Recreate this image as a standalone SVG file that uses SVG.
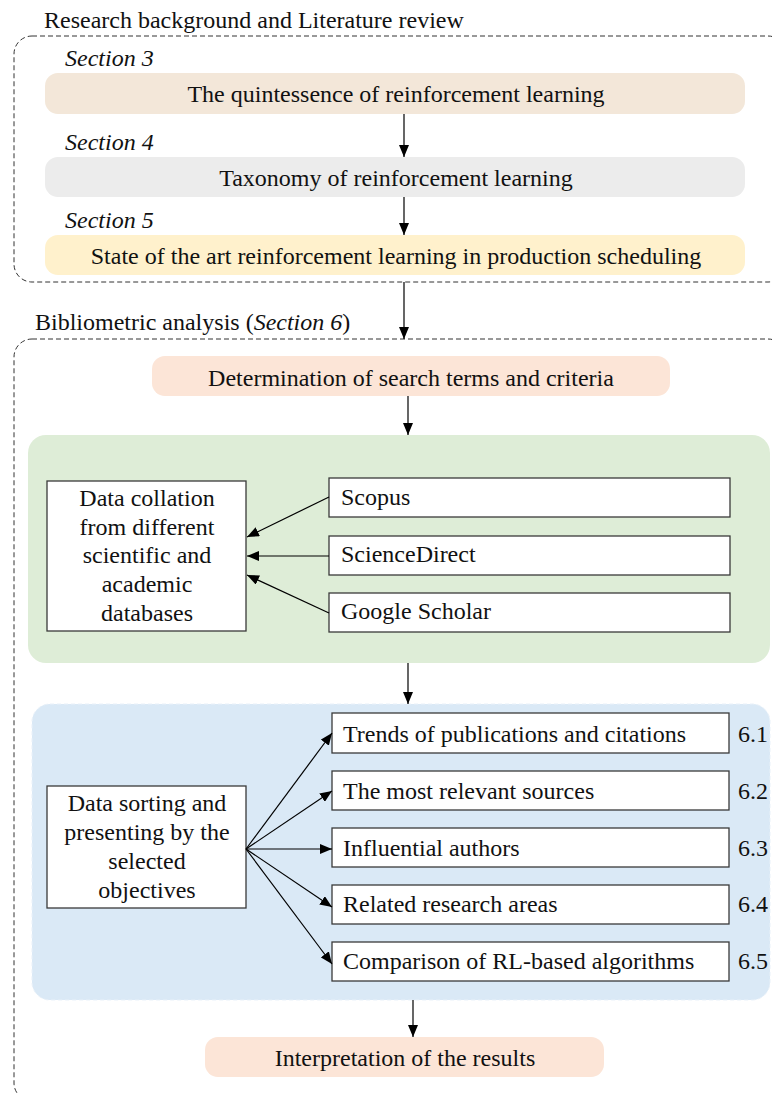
<svg xmlns="http://www.w3.org/2000/svg" width="772" height="1093" viewBox="0 0 772 1093">
  <defs>
    <marker id="arrow" markerUnits="userSpaceOnUse" markerWidth="12" markerHeight="10" refX="12" refY="5" orient="auto">
      <path d="M0,0 L12,5 L0,10 Z" fill="#000"/>
    </marker>
    <style>
      text { font-family: "Liberation Serif", "Times New Roman", serif; font-size: 24px; fill: #111; }
      .it { font-style: italic; }
      .mid { text-anchor: middle; }
      .frame { fill: none; stroke: #333; stroke-width: 1; stroke-dasharray: 5 3; }
      .box { fill: #fff; stroke: #3a3a3a; stroke-width: 1.3; }
      .conn { fill: none; stroke: #000; stroke-width: 1.2; marker-end: url(#arrow); }
    </style>
  </defs>
  <rect width="772" height="1093" fill="#fff"/>

  <!-- Part 1: research background and literature review -->
  <g id="frame-background">
    <rect class="frame" x="14" y="36" width="772" height="246" rx="18"/>
    <text x="44" y="28">Research background and Literature review</text>
  </g>
  <g id="sec3">
    <text class="it" x="65" y="66">Section 3</text>
    <rect x="45" y="73" width="700" height="41" rx="13" fill="#F3E7D9"/>
    <text class="mid" x="396" y="102">The quintessence of reinforcement learning</text>
  </g>
  <g id="sec4">
    <text class="it" x="65" y="150">Section 4</text>
    <rect x="45" y="157" width="700" height="40" rx="13" fill="#ECECEC"/>
    <text class="mid" x="396" y="186">Taxonomy of reinforcement learning</text>
  </g>
  <g id="sec5">
    <text class="it" x="65" y="228">Section 5</text>
    <rect x="45" y="235" width="700" height="40" rx="13" fill="#FFF1CC"/>
    <text class="mid" x="396" y="264">State of the art reinforcement learning in production scheduling</text>
  </g>

  <!-- Part 2: bibliometric analysis -->
  <g id="frame-bibliometric">
    <rect class="frame" x="14" y="339" width="772" height="762" rx="18"/>
    <text x="35" y="330">Bibliometric analysis (<tspan class="it">Section 6</tspan>)</text>
  </g>
  <g id="search-terms">
    <rect x="152" y="356" width="518" height="40" rx="13" fill="#FCE5D7"/>
    <text class="mid" x="411" y="386">Determination of search terms and criteria</text>
  </g>

  <g id="collation-panel">
    <rect x="28" y="435" width="742" height="228" rx="18" fill="#DEEDD7"/>
  </g>
  <g id="data-collation">
    <rect class="box" x="47" y="481" width="199" height="150"/>
    <text class="mid" x="147" y="506">Data collation</text>
    <text class="mid" x="147" y="535">from different</text>
    <text class="mid" x="147" y="563">scientific and</text>
    <text class="mid" x="147" y="592">academic</text>
    <text class="mid" x="147" y="621">databases</text>
  </g>
  <g id="scopus">
    <rect class="box" x="329" y="478" width="401" height="39"/>
    <text x="341" y="505">Scopus</text>
  </g>
  <g id="sciencedirect">
    <rect class="box" x="329" y="536" width="401" height="39"/>
    <text x="341" y="562">ScienceDirect</text>
  </g>
  <g id="google-scholar">
    <rect class="box" x="329" y="593" width="401" height="39"/>
    <text x="341" y="619">Google Scholar</text>
  </g>

  <g id="sorting-panel">
    <rect x="32" y="704" width="738" height="296" rx="18" fill="#DAE9F6" stroke="#E9F1F9" stroke-width="1" stroke-dasharray="4 3"/>
  </g>
  <g id="data-sorting">
    <rect class="box" x="47" y="786" width="199" height="122"/>
    <text class="mid" x="147" y="811">Data sorting and</text>
    <text class="mid" x="147" y="840">presenting by the</text>
    <text class="mid" x="147" y="869">selected</text>
    <text class="mid" x="147" y="898">objectives</text>
  </g>
  <g id="obj-trends">
    <rect class="box" x="332" y="713" width="397" height="40"/>
    <text x="343" y="742">Trends of publications and citations</text>
    <text x="738" y="742">6.1</text>
  </g>
  <g id="obj-sources">
    <rect class="box" x="332" y="771" width="397" height="39"/>
    <text x="343" y="799">The most relevant sources</text>
    <text x="738" y="799">6.2</text>
  </g>
  <g id="obj-authors">
    <rect class="box" x="332" y="828" width="397" height="39"/>
    <text x="343" y="856">Influential authors</text>
    <text x="738" y="856">6.3</text>
  </g>
  <g id="obj-areas">
    <rect class="box" x="332" y="885" width="397" height="39"/>
    <text x="343" y="912">Related research areas</text>
    <text x="738" y="912">6.4</text>
  </g>
  <g id="obj-algorithms">
    <rect class="box" x="332" y="942" width="397" height="39"/>
    <text x="343" y="969">Comparison of RL-based algorithms</text>
    <text x="738" y="969">6.5</text>
  </g>

  <g id="interpretation">
    <rect x="205" y="1037" width="399" height="40" rx="13" fill="#FCE5D7"/>
    <text class="mid" x="405" y="1066">Interpretation of the results</text>
  </g>

  <!-- connectors -->
  <g id="connectors">
    <line class="conn" x1="404" y1="114" x2="404" y2="157"/>
    <line class="conn" x1="404" y1="197" x2="404" y2="235"/>
    <line class="conn" x1="404" y1="282" x2="404" y2="339"/>
    <line class="conn" x1="408" y1="396" x2="408" y2="435"/>
    <line class="conn" x1="329" y1="497" x2="247" y2="537"/>
    <line class="conn" x1="329" y1="556" x2="247" y2="556"/>
    <line class="conn" x1="329" y1="613" x2="247" y2="575"/>
    <line class="conn" x1="408" y1="663" x2="408" y2="704"/>
    <line class="conn" x1="246" y1="849" x2="332" y2="733"/>
    <line class="conn" x1="246" y1="849" x2="332" y2="791"/>
    <line class="conn" x1="246" y1="849" x2="332" y2="849"/>
    <line class="conn" x1="246" y1="849" x2="332" y2="907"/>
    <line class="conn" x1="246" y1="849" x2="332" y2="964"/>
    <line class="conn" x1="413" y1="1000" x2="413" y2="1037"/>
  </g>
</svg>
